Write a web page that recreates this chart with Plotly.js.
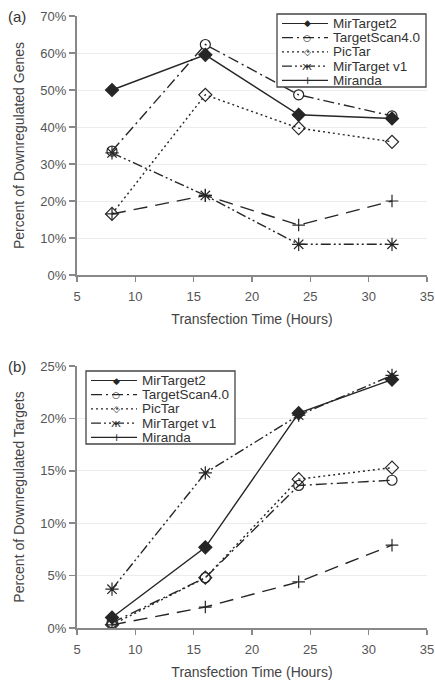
<!DOCTYPE html>
<html>
<head>
<meta charset="utf-8">
<script src="https://cdn.plot.ly/plotly-3.0.1.min.js"></script>
<style>html,body{margin:0;padding:0;background:#fff;}#chart{width:435px;height:682px;}</style>
</head>
<body>
<div id="chart"></div>
<script>
// Shared categories
var hours = [8, 16, 24, 32];
var seriesNames = ["MirTarget2", "TargetScan4.0", "PicTar", "MirTarget v1", "Miranda"];

// Panel (a): Percent of Downregulated Genes
var genesMirTarget2 = [50.0, 59.5, 43.3, 42.3];
var genesTargetScan = [33.5, 62.3, 48.7, 43.0];
var genesPicTar = [16.5, 48.7, 39.7, 36.0];
var genesMirTargetV1 = [33.0, 21.5, 8.3, 8.3];
var genesMiranda = [16.5, 21.5, 13.5, 20.0];

// Panel (b): Percent of Downregulated Targets
var targetsMirTarget2 = [1.0, 7.7, 20.5, 23.7];
var targetsTargetScan = [0.5, 4.8, 13.6, 14.1];
var targetsPicTar = [0.3, 4.8, 14.2, 15.3];
var targetsMirTargetV1 = [3.7, 14.8, 20.3, 24.1];
var targetsMiranda = [0.3, 2.0, 4.4, 7.9];

var yTicksA = [0, 10, 20, 30, 40, 50, 60, 70];
var yTicksB = [0, 5, 10, 15, 20, 25];
var xTicks = [5, 10, 15, 20, 25, 30, 35];

var ink = "#262626";
var styles = [
  {dash: "solid", symbol: "diamond", size: 10, glyph: "\u25C6", gsize: 9},
  {dash: "11px,4px,2px,4px", symbol: "circle-open", size: 10, glyph: "\u25CB", gsize: 9},
  {dash: "2px,3px", symbol: "diamond-open", size: 10, glyph: "\u25C7", gsize: 9},
  {dash: "10px,3px,2px,3px,2px,3px", symbol: "asterisk-open", size: 11, glyph: "\u0436", gsize: 11},
  {dash: "14px,8px", symbol: "cross-thin-open", size: 9, glyph: "+", gsize: 11, legendDash: "solid"}
];

var dataA = [genesMirTarget2, genesTargetScan, genesPicTar, genesMirTargetV1, genesMiranda];
var dataB = [targetsMirTarget2, targetsTargetScan, targetsPicTar, targetsMirTargetV1, targetsMiranda];

var traces = [];
function addPanel(values, xa, ya) {
  values.forEach(function (vals, i) {
    var s = styles[i];
    traces.push({
      x: hours, y: vals, name: seriesNames[i], type: "scatter", mode: "lines+markers",
      xaxis: xa, yaxis: ya, showlegend: false,
      line: {color: ink, width: 1.4, dash: s.dash},
      marker: {symbol: s.symbol, size: s.size, color: ink, line: {color: ink, width: 1.2}}
    });
  });
}
addPanel(dataA, "x", "y");
addPanel(dataB, "x2", "y2");

var fontFam = "Liberation Sans, Arial, sans-serif";
var tickFont = {family: fontFam, size: 13, color: "#555"};
var titleFont = {family: fontFam, size: 14, color: "#444"};

// layout geometry (pixels)
var W = 435, H = 682, mL = 77, mR = 8, mT = 16, mB = 54;
var plotW = W - mL - mR, plotH = H - mT - mB;
function px2x(px) { return (px - mL) / plotW; }
function px2y(py) { return (H - mB - py) / plotH; }

function xAxis(anchor) {
  return {
    anchor: anchor, domain: [0, 1], range: [5, 35], tickvals: xTicks,
    showgrid: false, zeroline: false, showline: true, linecolor: "#888", linewidth: 2,
    ticks: "outside", ticklen: 5, tickcolor: "#888", tickwidth: 1.5, tickfont: tickFont,
    ticklabelstandoff: 3,
    title: {text: "Transfection Time (Hours)", font: titleFont, standoff: 12}
  };
}
function yAxis(anchor, domain, range, ticks, title) {
  return {
    anchor: anchor, domain: domain, range: range, tickmode: "array", tickvals: ticks,
    ticktext: ticks.map(function (v) { return v + "%"; }),
    showgrid: true, gridcolor: "#ececec", gridwidth: 1, zeroline: false,
    showline: true, linecolor: "#888", linewidth: 2,
    ticks: "outside", ticklen: 6, tickcolor: "#888", tickwidth: 1.5, tickfont: tickFont,
    title: {text: title, font: titleFont, standoff: 12}
  };
}

var topA = 16, botA = 275, topB = 366, botB = 628;

// custom legends (box, line samples, glyphs, labels)
var shapes = [], annotations = [];
function addLegend(left, top) {
  var bw = 149, bh = 73, row0 = 9.5, rowGap = 14.2;
  shapes.push({type: "rect", xref: "paper", yref: "paper",
    x0: px2x(left), x1: px2x(left + bw), y0: px2y(top), y1: px2y(top + bh),
    line: {color: "#444", width: 1.3}, fillcolor: "#fff", layer: "above"});
  seriesNames.forEach(function (name, i) {
    var s = styles[i];
    var cy = top + row0 + rowGap * i;
    shapes.push({type: "line", xref: "paper", yref: "paper",
      x0: px2x(left + 5), x1: px2x(left + 51), y0: px2y(cy), y1: px2y(cy),
      line: {color: ink, width: 1.2, dash: s.legendDash || s.dash}, layer: "above"});
    annotations.push({text: s.glyph, xref: "paper", yref: "paper", x: px2x(left + 30), y: px2y(cy),
      xanchor: "center", yanchor: "middle", showarrow: false,
      font: {family: "DejaVu Sans", size: s.gsize, color: ink}});
    annotations.push({text: name, xref: "paper", yref: "paper", x: px2x(left + 54), y: px2y(cy),
      xanchor: "left", yanchor: "middle", showarrow: false,
      font: {family: fontFam, size: 13.5, color: "#333"}});
  });
}
addLegend(277, 14);
addLegend(86, 371);

annotations.push({text: "(a)", xref: "paper", yref: "paper", x: px2x(6), y: px2y(topA),
  xanchor: "left", yanchor: "middle", showarrow: false, font: {family: fontFam, size: 15, color: "#333"}});
annotations.push({text: "(b)", xref: "paper", yref: "paper", x: px2x(6), y: px2y(topB),
  xanchor: "left", yanchor: "middle", showarrow: false, font: {family: fontFam, size: 15, color: "#333"}});

var layout = {
  width: W, height: H,
  margin: {l: mL, r: mR, t: mT, b: mB},
  paper_bgcolor: "#fff", plot_bgcolor: "#fff",
  showlegend: false,
  xaxis: xAxis("y"),
  yaxis: yAxis("x", [px2y(botA), px2y(topA)], [0, 70], yTicksA, "Percent of Downregulated Genes"),
  xaxis2: xAxis("y2"),
  yaxis2: yAxis("x2", [px2y(botB), px2y(topB)], [0, 25], yTicksB, "Percent of Downregulated Targets"),
  shapes: shapes,
  annotations: annotations
};

Plotly.newPlot("chart", traces, layout, {displayModeBar: false, staticPlot: true});
</script>
</body>
</html>
